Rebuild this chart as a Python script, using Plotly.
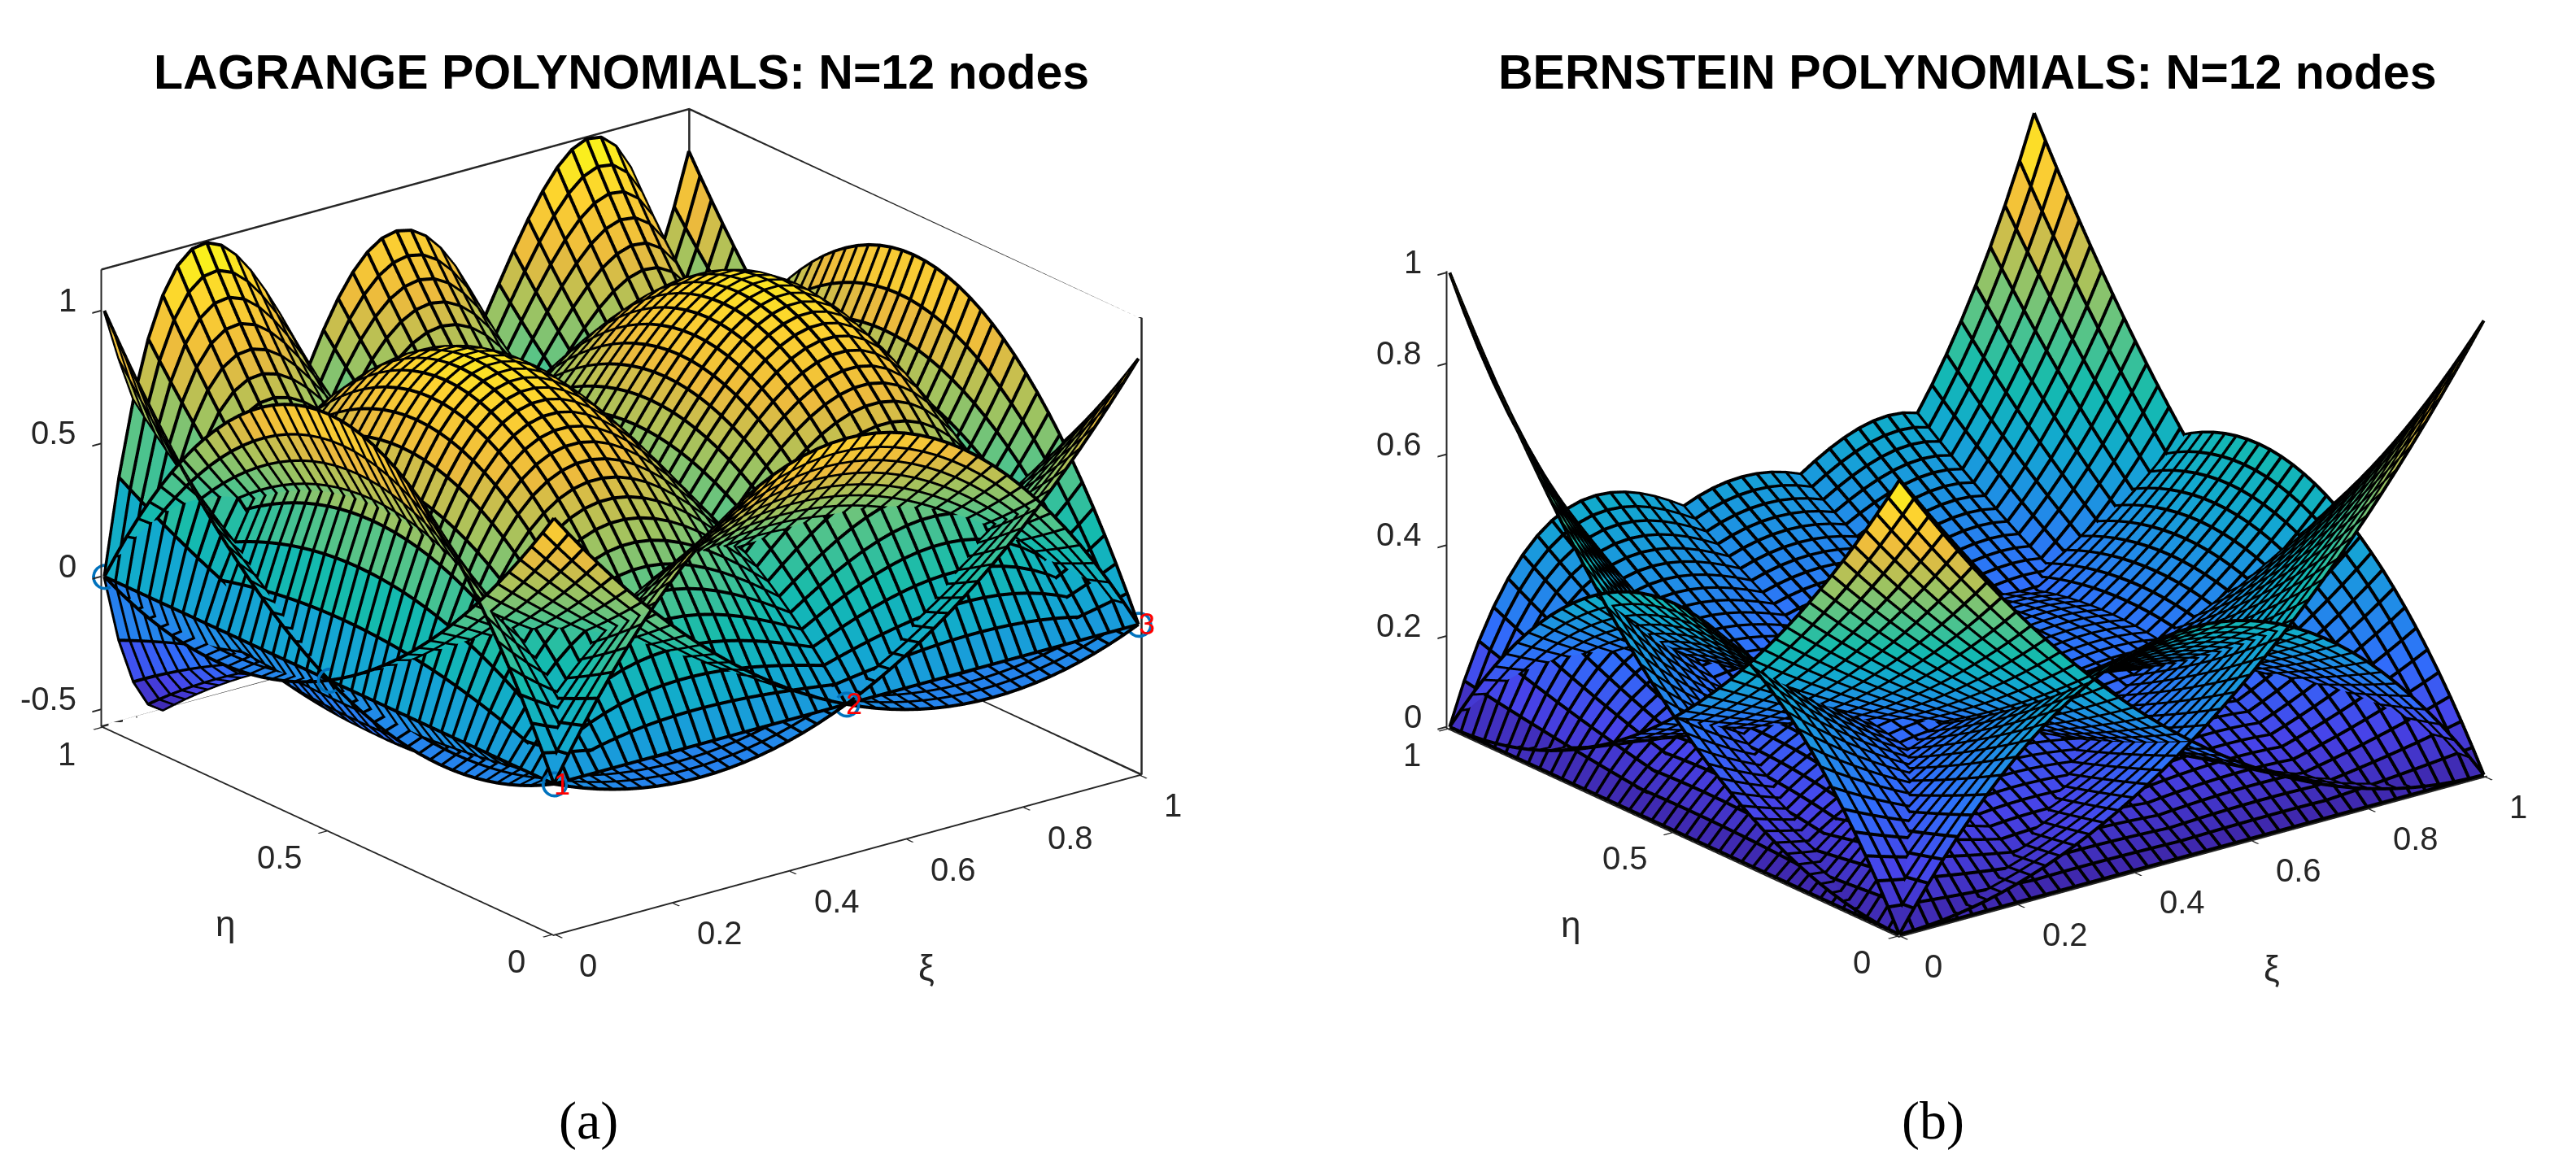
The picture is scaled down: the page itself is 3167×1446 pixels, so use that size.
# Surface heights are hand-read/estimated tables: each surface in the reference is a row-shape in eta
# multiplied by a column-shape in xi, so one tabulated profile per shape is listed below.
# The reference shows 12 nodes arranged as rows of 3, 4 and 5 across eta = 0, 0.5, 1.
import numpy as np
import plotly.graph_objects as go

W, H = 3167, 1446

xi = [0, .025, .05, .075, .1, .125, .15, .175, .2, .225, .25, .275, .3, .325, .35, .375, .4, .425, .45, .475, .5,
      .525, .55, .575, .6, .625, .65, .675, .7, .725, .75, .775, .8, .825, .85, .875, .9, .925, .95, .975, 1]
eta = xi

# ---- Lagrange panel profiles ----
lag_q0 = [1, .9263, .855, .7863, .72, .6563, .595, .5363, .48, .4263, .375, .3263, .28, .2363, .195, .1563, .12, .0863, .055, .0263, 0, -.0238, -.045, -.0638, -.08, -.0938, -.105, -.1138, -.12, -.1238, -.125, -.1238, -.12, -.1138, -.105, -.0938, -.08, -.0638, -.045, -.0238, 0]
lag_q1 = [0, .0975, .19, .2775, .36, .4375, .51, .5775, .64, .6975, .75, .7975, .84, .8775, .91, .9375, .96, .9775, .99, .9975, 1, .9975, .99, .9775, .96, .9375, .91, .8775, .84, .7975, .75, .6975, .64, .5775, .51, .4375, .36, .2775, .19, .0975, 0]
lag_c0 = [1, .8681, .7469, .6362, .5355, .4443, .3623, .289, .224, .1669, .1172, .0745, .0385, .0087, -.0154, -.0342, -.048, -.0573, -.0626, -.0642, -.0625, -.058, -.0512, -.0424, -.032, -.0205, -.0083, .0042, .0165, .0283, .0391, .0484, .056, .0613, .0639, .0635, .0595, .0516, .0393, .0223, 0]
lag_c1 = [0, .2112, .3954, .5541, .6885, .7998, .8893, .9583, 1.008, 1.0397, 1.0547, 1.0542, 1.0395, 1.0119, .9726, .9229, .864, .7973, .724, .6453, .5625, .4769, .3899, .3024, .216, .1318, .0512, -.0247, -.0945, -.157, -.2109, -.255, -.288, -.3086, -.3155, -.3076, -.2835, -.2419, -.1817, -.1015, 0]
lag_p0 = [1, .8058, .6384, .4953, .3744, .2734, .1904, .1233, .0704, .0298, 0, -.0207, -.0336, -.0402, -.0416, -.0391, -.0336, -.0262, -.0176, -.0087, 0, .0078, .0144, .0193, .0224, .0234, .0224, .0193, .0144, .0078, 0, -.0087, -.0176, -.0262, -.0336, -.0391, -.0416, -.0402, -.0336, -.0207, 0]
lag_p1 = [0, .3582, .6384, .8491, .9984, 1.0938, 1.1424, 1.1511, 1.1264, 1.074, 1, .9092, .8064, .6962, .5824, .4688, .3584, .2542, .1584, .0731, 0, -.0598, -.1056, -.1368, -.1536, -.1563, -.1456, -.1228, -.0896, -.0478, 0, .0512, .1024, .1501, .1904, .2188, .2304, .2201, .1824, .1111, 0]
lag_p2 = [0, -.2544, -.4256, -.5243, -.5616, -.5469, -.4896, -.3985, -.2816, -.1465, 0, .1515, .3024, .4475, .5824, .7031, .8064, .8895, .9504, .9875, 1, .9875, .9504, .8895, .8064, .7031, .5824, .4475, .3024, .1515, 0, -.1465, -.2816, -.3985, -.4896, -.5469, -.5616, -.5243, -.4256, -.2544, 0]

# ---- Bernstein panel profiles ----
ber_q0 = [1, .9506, .9025, .8556, .81, .7656, .7225, .6806, .64, .6006, .5625, .5256, .49, .4556, .4225, .3906, .36, .3306, .3025, .2756, .25, .2256, .2025, .1806, .16, .1406, .1225, .1056, .09, .0756, .0625, .0506, .04, .0306, .0225, .0156, .01, .0056, .0025, .0006, 0]
ber_q1 = [0, .0488, .095, .1388, .18, .2188, .255, .2888, .32, .3488, .375, .3988, .42, .4388, .455, .4688, .48, .4888, .495, .4988, .5, .4988, .495, .4888, .48, .4688, .455, .4388, .42, .3988, .375, .3488, .32, .2888, .255, .2188, .18, .1388, .095, .0488, 0]
ber_c0 = [1, .9268, .8574, .7915, .729, .6699, .6141, .5615, .512, .4655, .4219, .3811, .343, .3075, .2746, .2441, .216, .1901, .1664, .1447, .125, .1072, .0911, .0768, .064, .0527, .0429, .0343, .027, .0208, .0156, .0114, .008, .0054, .0034, .002, .001, .0004, .0001, 0, 0]
ber_c1 = [0, .0713, .1354, .1925, .243, .2871, .3251, .3573, .384, .4054, .4219, .4336, .441, .4442, .4436, .4394, .432, .4215, .4084, .3927, .375, .3553, .3341, .3115, .288, .2636, .2389, .2138, .189, .1644, .1406, .1176, .096, .0757, .0574, .041, .027, .0155, .0071, .0018, 0]
ber_p0 = [1, .9037, .8145, .7321, .6561, .5862, .522, .4633, .4096, .3607, .3164, .2763, .2401, .2076, .1785, .1526, .1296, .1093, .0915, .076, .0625, .0509, .041, .0326, .0256, .0198, .015, .0112, .0081, .0057, .0039, .0026, .0016, .0009, .0005, .0002, .0001, 0, 0, 0, 0]
ber_p1 = [0, .0927, .1715, .2375, .2916, .335, .3685, .3931, .4096, .419, .4219, .4192, .4116, .3998, .3845, .3662, .3456, .3232, .2995, .2749, .25, .2251, .2005, .1766, .1536, .1318, .1115, .0926, .0756, .0603, .0469, .0353, .0256, .0178, .0115, .007, .0036, .0015, .0005, .0001, 0]
ber_p2 = [0, .0036, .0135, .0289, .0486, .0718, .0975, .1251, .1536, .1824, .2109, .2385, .2646, .2888, .3105, .3296, .3456, .3583, .3675, .3731, .375, .3731, .3675, .3583, .3456, .3296, .3105, .2888, .2646, .2385, .2109, .1824, .1536, .1251, .0975, .0718, .0486, .0289, .0135, .0036, 0]

node_xi = [0, .5, 1, 0, 1, 0, 1]
node_eta = [0, 0, 0, .5, .5, 1, 1]
node_labels = ["1", "2", "3"]

xi_ticks = [0, .2, .4, .6, .8, 1]
eta_ticks = [0, .5, 1]
z_ticks_a = [-.5, 0, .5, 1]
z_ticks_b = [0, .2, .4, .6, .8, 1]
z_lim_a = [-.5616, 1.1511]
z_lim_b = [0, 1]

titles = ["LAGRANGE POLYNOMIALS: N=12 nodes", "BERNSTEIN POLYNOMIALS: N=12 nodes"]
captions = ["(a)", "(b)"]

parula = [[0, "#3e26a8"], [.1, "#4743e9"], [.2, "#2f6ffb"], [.3, "#1f8fe5"], [.4, "#12a9d0"], [.5, "#14bbae"],
          [.6, "#54c48a"], [.7, "#a4c35e"], [.8, "#ecba3d"], [.9, "#fdd130"], [1, "#f9fb15"]]

INK = "#262626"
PAD = .003
LIFT = .002  # mesh lines sit this far toward the camera so they are not buried in the faces

def surfaces(q0, q1, c0, c1, p0, p1, p2):
    """Stack of the 12 height tables: (eta row shape, xi column shape)."""
    rows = [(q0, [q0, q1, q0[::-1]]),
            (q1, [c0, c1, c1[::-1], c0[::-1]]),
            (q0[::-1], [p0, p1, p2, p1[::-1], p0[::-1]])]
    return [np.outer(r, c) for r, cols in rows for c in cols]

fig = go.Figure()

def add_panel(tables, scene, zlim):
    nx, ny = len(xi), len(eta)
    X, Y = np.meshgrid(xi, eta)
    vx, vy, vz, ti, tj, tk, cell = [], [], [], [], [], [], []
    lx, ly, lz = [], [], []
    gap = [np.nan]
    for s, z in enumerate(tables):
        base = s * nx * ny
        vx.append(X.ravel()); vy.append(Y.ravel()); vz.append(z.ravel())
        idx = base + np.arange(nx * ny).reshape(ny, nx)
        a, b, c, d = idx[:-1, :-1].ravel(), idx[:-1, 1:].ravel(), idx[1:, 1:].ravel(), idx[1:, :-1].ravel()
        ti += [a, a]; tj += [b, c]; tk += [c, d]
        m = ((z[:-1, :-1] + z[:-1, 1:] + z[1:, 1:] + z[1:, :-1]) / 4).ravel()
        cell += [m, m]
        for j in range(ny):
            lx += [X[j], gap]; ly += [Y[j], gap]; lz += [z[j], gap]
        for i in range(nx):
            lx += [X[:, i], gap]; ly += [Y[:, i], gap]; lz += [z[:, i], gap]
    span = zlim[1] - zlim[0]
    fig.add_trace(go.Mesh3d(x=np.concatenate(vx), y=np.concatenate(vy), z=np.concatenate(vz),
                            i=np.concatenate(ti), j=np.concatenate(tj), k=np.concatenate(tk),
                            intensity=np.concatenate(cell), intensitymode="cell", colorscale=parula,
                            cmin=zlim[0], cmax=zlim[1], showscale=False, hoverinfo="skip", scene=scene,
                            flatshading=True,
                            lighting=dict(ambient=1, diffuse=0, specular=0, fresnel=0, roughness=1)))
    fig.add_trace(go.Scatter3d(x=np.concatenate(lx) - .57 * LIFT, y=np.concatenate(ly) - .741 * LIFT,
                               z=np.concatenate(lz) + .355 * LIFT * span / .659,
                               scene=scene, mode="lines", line=dict(color="black", width=8),
                               hoverinfo="skip", showlegend=False))

add_panel(surfaces(lag_q0, lag_q1, lag_c0, lag_c1, lag_p0, lag_p1, lag_p2), "scene", z_lim_a)
add_panel(surfaces(ber_q0, ber_q1, ber_c0, ber_c1, ber_p0, ber_p1, ber_p2), "scene2", z_lim_b)

# node markers on the left panel
fig.add_trace(go.Scatter3d(x=node_xi, y=node_eta, z=[0] * len(node_xi), scene="scene", mode="markers",
                           marker=dict(symbol="circle-open", size=18, color="#0072bd", line=dict(width=3, color="#0072bd")),
                           hoverinfo="skip", showlegend=False))

# back box of left panel, at the axis limits
x0, x1 = -PAD, 1 + PAD
zb, zt_ = z_lim_a[0] - PAD, z_lim_a[1] + PAD
box_x = [x0, x1, x1, None, x1, x1, None, x1, x1, None, x0, x1, x1, None, x1, x1]
box_y = [x1, x1, x0, None, x1, x1, None, x1, x1, None, x1, x1, x0, None, x0, x0]
box_z = [zt_, zt_, zt_, None, zb, zt_, None, zb, zt_, None, zb, zb, zb, None, zb, zt_]
fig.add_trace(go.Scatter3d(x=box_x, y=box_y, z=box_z, scene="scene", mode="lines", line=dict(color=INK, width=5),
                           hoverinfo="skip", showlegend=False))

def axis(ticks, rng):
    return dict(range=rng, tickvals=ticks, title=dict(text=""), showticklabels=False,
                showgrid=False, zeroline=False, showbackground=False, showline=True, linecolor=INK, linewidth=4,
                ticks="outside", ticklen=14, tickwidth=4, tickcolor=INK, showspikes=False)

def label(x, y, z, text, dx, dy, anchor="center", size=40):
    return dict(x=x, y=y, z=z, text=text, showarrow=False, xshift=dx, yshift=dy, xanchor=anchor, yanchor="middle",
                font=dict(size=size, family="Liberation Sans", color=INK))

def scene_labels(zt, zlim):
    out = []
    for t in xi_ticks:
        out.append(label(t, 0, zlim[0], f"{t:g}", 42 if t in (0, 1) else 60, -39))
    for t in eta_ticks:
        out.append(label(0, t, zlim[0], f"{t:g}", -61 if t == .5 else -46, -34))
    for t in zt:
        out.append(label(0, 1, t, f"{t:g}", -32, 13, "right"))
    out.append(label(.5, 0, zlim[0], "ξ", 99, -140, size=44))
    out.append(label(0, .5, zlim[0], "η", -128, -115, size=44))
    return out

r = 2.0
eye = dict(x=-.570 * r, y=-.741 * r, z=.355 * r)
ZOOM = 1.52
def scene(cx, cy, zt, zlim, extra=()):
    hw, hh = 734, 600
    return dict(domain=dict(x=[(cx - hw) / W, (cx + hw) / W], y=[1 - (cy + hh) / H, 1 - (cy - hh) / H]),
                camera=dict(projection=dict(type="orthographic"), eye=eye, center=dict(x=0, y=0, z=0), up=dict(x=0, y=0, z=1)),
                aspectmode="manual", aspectratio=dict(x=ZOOM, y=ZOOM, z=.659 * ZOOM),
                xaxis=axis(xi_ticks, [-PAD, 1 + PAD]), yaxis=axis(eta_ticks, [-PAD, 1 + PAD]),
                zaxis=axis(zt, [zlim[0] - PAD, zlim[1] + PAD]),
                annotations=scene_labels(zt, zlim) + list(extra))

node_ann = [dict(x=node_xi[i], y=node_eta[i], z=0, text=node_labels[i], showarrow=False, xshift=10, yshift=0,
                 font=dict(size=36, family="Liberation Sans", color="red")) for i in range(3)]

ann = []
for t, c, tx, cpx in zip(titles, captions, [764, 2418], [723, 2376]):
    ann.append(dict(text=f"<b>{t}</b>", x=tx / W, y=1 - 89 / H, xref="paper", yref="paper", showarrow=False,
                    xanchor="center", yanchor="middle", font=dict(size=59, family="Liberation Sans", color="black")))
    ann.append(dict(text=c, x=cpx / W, y=1 - 1378 / H, xref="paper", yref="paper", showarrow=False,
                    xanchor="center", yanchor="middle", font=dict(size=66, family="Liberation Serif", color="black")))

fig.update_layout(width=W, height=H, margin=dict(l=0, r=0, t=0, b=0), paper_bgcolor="white", showlegend=False,
                  scene=scene(764, 642, z_ticks_a, z_lim_a, node_ann), scene2=scene(2418, 644, z_ticks_b, z_lim_b),
                  annotations=ann)
fig.write_html("out.html", post_script="document.body.style.margin='0';", config=dict(displayModeBar=False))
